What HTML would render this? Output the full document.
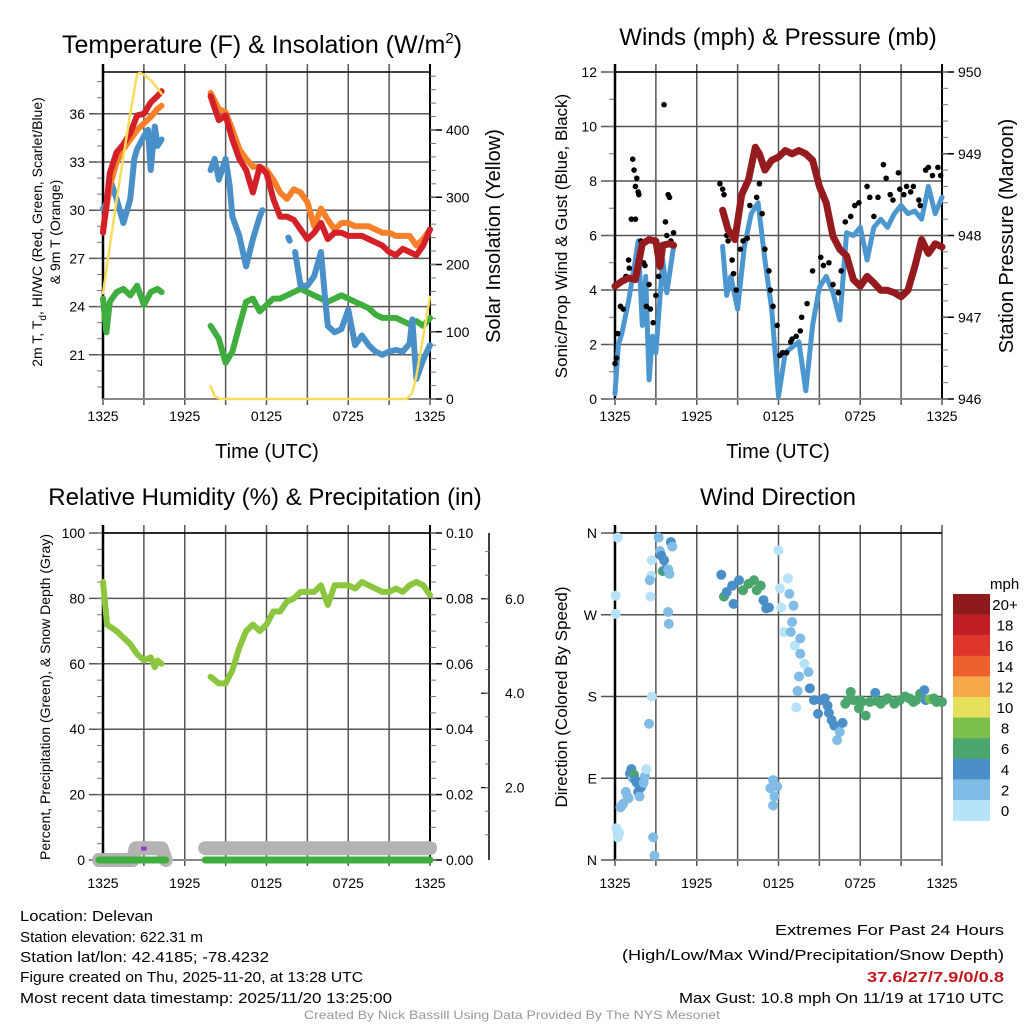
<!DOCTYPE html>
<html><head><meta charset="utf-8"><style>
html,body{margin:0;padding:0;background:#fff;}
svg{display:block;font-family:"Liberation Sans",Arial,sans-serif;}
</style></head><body>
<svg id="root" width="1024" height="1024" viewBox="0 0 1024 1024" xmlns="http://www.w3.org/2000/svg">
<g font-size="24" text-anchor="middle" fill="#000">
<text x="262" y="53" font-size="25">Temperature (F) &amp; Insolation (W/m<tspan font-size="15" dy="-10">2</tspan><tspan dy="10">)</tspan></text>
<text x="778" y="45">Winds (mph) &amp; Pressure (mb)</text>
<text x="265" y="505">Relative Humidity (%) &amp; Precipitation (in)</text>
<text x="778" y="505">Wind Direction</text>
</g>
<g fill="#000" text-anchor="middle">
<text x="267" y="458" font-size="20">Time (UTC)</text>
<text x="778" y="458" font-size="20">Time (UTC)</text>
<text transform="translate(42,232) rotate(-90)" font-size="14">2m T, T<tspan font-size="10" dy="4">d</tspan><tspan dy="-4">, HI/WC (Red, Green, Scarlet/Blue)</tspan></text>
<text transform="translate(60,232) rotate(-90)" font-size="14">&amp; 9m T (Orange)</text>
<text transform="translate(500,236) rotate(-90)" font-size="20">Solar Insolation (Yellow)</text>
<text transform="translate(567,236) rotate(-90)" font-size="17">Sonic/Prop Wind &amp; Gust (Blue, Black)</text>
<text transform="translate(1013,236) rotate(-90)" font-size="20">Station Pressure (Maroon)</text>
<text transform="translate(50,697) rotate(-90)" font-size="14">Percent, Precipitation (Green), &amp; Snow Depth (Gray)</text>
<text transform="translate(567,697) rotate(-90)" font-size="17">Direction (Colored By Speed)</text>
</g>
<g font-size="15" fill="#000">
<text x="20" y="921" textLength="133" lengthAdjust="spacingAndGlyphs">Location: Delevan</text>
<text x="20" y="942" textLength="183" lengthAdjust="spacingAndGlyphs">Station elevation: 622.31 m</text>
<text x="20" y="962" textLength="249" lengthAdjust="spacingAndGlyphs">Station lat/lon: 42.4185; -78.4232</text>
<text x="20" y="982" textLength="343" lengthAdjust="spacingAndGlyphs">Figure created on Thu, 2025-11-20, at 13:28 UTC</text>
<text x="20" y="1003" textLength="372" lengthAdjust="spacingAndGlyphs">Most recent data timestamp: 2025/11/20 13:25:00</text>
<text x="775" y="935" textLength="229" lengthAdjust="spacingAndGlyphs">Extremes For Past 24 Hours</text>
<text x="622" y="960" textLength="382" lengthAdjust="spacingAndGlyphs">(High/Low/Max Wind/Precipitation/Snow Depth)</text>
<text x="867" y="982" textLength="137" lengthAdjust="spacingAndGlyphs" font-weight="bold" fill="#c4161c">37.6/27/7.9/0/0.8</text>
<text x="679" y="1003" textLength="325" lengthAdjust="spacingAndGlyphs">Max Gust: 10.8 mph On 11/19 at 1710 UTC</text>
<text x="304" y="1019" font-size="12" fill="#999" textLength="416" lengthAdjust="spacingAndGlyphs">Created By Nick Bassill Using Data Provided By The NYS Mesonet</text>
</g>
</svg>
<script>
const timeTickLabels=["1325","1925","0125","0725","1325"];
const timeTickHours=[0,6,12,18,24];
// Panel 1 data [hour, value]
const redTemp=[[0,28.6],[0.25,30.3],[0.5,32.3],[1,33.6],[1.5,34.1],[2,34.8],[2.5,35.9],[3,36],[3.5,36.7],[4,37.1],[4.3,37.4],null,[7.9,37.1],[8.5,35.6],[9,35.9],[9.5,34.4],[10,33.2],[10.5,32.5],[11,31.1],[11.5,32.7],[12,32.3],[12.5,30.7],[13,29.6],[13.5,29.6],[14,29.4],[14.5,28.8],[15,28.2],[15.5,28.6],[16,29.2],[16.5,28.2],[17,28.6],[17.5,28.6],[18,28.4],[18.5,28.4],[19,28.4],[19.5,28.2],[20,28],[20.5,27.8],[21,27.4],[21.5,27.2],[22,27.6],[22.5,27.4],[23,27.2],[23.5,27.8],[24,28.8]];
const orangeTemp=[[0,28.8],[0.5,31.5],[1,33],[1.5,33.8],[2,34.4],[2.5,35],[3,35.4],[3.5,35.8],[4,36.3],[4.3,36.5],null,[7.9,37.3],[8.5,36.3],[9,36.1],[9.5,35],[10,33.8],[10.5,33.2],[11,32.7],[11.5,32.7],[12,32.5],[12.5,31.9],[13,31.1],[13.5,30.7],[14,31.3],[14.5,31.1],[15,30.5],[15.5,29],[16,30.1],[16.5,29.4],[17,28.8],[17.5,29.2],[18,29.2],[18.5,29],[19,29],[19.5,29],[20,28.8],[20.5,28.6],[21,28.6],[21.5,28.4],[22,28.4],[22.5,28.4],[23,27.8],[23.5,28.2],[24,28.8]];
const blueTemp=[[0,30.1],[0.3,30.5],[0.6,31.7],[1,30.7],[1.5,29.2],[2,30.7],[2.3,33.2],[2.5,33.8],[3,34.6],[3.3,35],[3.5,32.5],[3.8,35.2],[4,34],[4.3,34.4],null,[7.9,32.5],[8.2,33.2],[8.5,31.9],[9,33.2],[9.3,31.5],[9.5,29.6],[10,28.4],[10.5,26.5],[11,28.2],[11.5,29.6],[11.7,30],null,[13.6,28.3],[13.7,28.1],null,[14.1,27.4],[14.5,25.3],[15,25.3],[15.5,25.9],[16,27.4],[16.3,24.5],[16.5,22.8],[17,22.4],[17.5,22.6],[18,23.8],[18.5,21.6],[19,22.2],[19.5,21.6],[20,21.2],[20.5,21],[21,21.2],[21.5,21.3],[22,21.2],[22.5,21.7],[22.7,23.2],[23,19.5],[23.5,20.7],[24,21.6]];
const greenTemp=[[0,24.5],[0.25,22.4],[0.5,24.3],[1,24.9],[1.5,25.1],[2,24.7],[2.5,25.3],[3,24.1],[3.5,24.9],[4,25.1],[4.3,24.9],null,[7.9,22.8],[8.5,22],[9,20.5],[9.5,21.2],[10,22.8],[10.5,24.3],[11,24.5],[11.5,23.7],[12,24.1],[12.5,24.5],[13,24.5],[13.5,24.7],[14,24.9],[14.5,25.1],[15,24.9],[15.5,24.7],[16,24.5],[16.5,24.3],[17,24.5],[17.5,24.7],[18,24.5],[18.5,24.3],[19,24.1],[19.5,23.9],[20,23.5],[20.5,23.3],[21,23.3],[21.5,23.3],[22,23.1],[22.5,22.9],[23,23.1],[23.5,22.8],[24,23.3]];
const insolation=[[0,157],[0.5,227],[1,296],[1.5,360],[2,425],[2.5,483],[2.7,485],[3,482],[3.5,474],[4,462],[4.3,454],null,[7.9,19],[8.2,4],[8.6,0],[22.3,0],[22.7,9],[23,34],[23.5,93],[24,152]];
// Panel 2 data
const windSpeed=[[0,0.2],[0.25,2],[0.5,2.4],[1,3.6],[1.5,5.1],[1.7,5.8],[2,2.7],[2.25,4.5],[2.5,0.7],[2.75,2.3],[3,1.7],[3.5,5.1],[3.8,3.9],[4.3,5.6],null,[7.9,5.6],[8.2,3.8],[8.5,4.5],[9,3.3],[9.5,5.6],[10,6.8],[10.5,7.2],[11,5.1],[11.5,3.3],[12,0.1],[12.5,1.7],[13,1.9],[13.5,2.1],[14,0.3],[14.5,2.7],[15,4.1],[15.5,4.5],[16,3.9],[16.5,2.9],[17,6.1],[17.5,6],[18,6.3],[18.5,5.1],[19,6.3],[19.5,6.6],[20,6.3],[20.5,6.8],[21,7.1],[21.5,6.8],[22,6.9],[22.5,6.6],[23,7.8],[23.5,6.8],[24,7.4]];
const pressure=[[0,947.38],[0.5,947.44],[1,947.48],[1.5,947.46],[2,947.9],[2.5,947.95],[3,947.93],[3.3,947.62],[3.5,947.88],[4,947.9],[4.3,947.88],null,[7.9,948.31],[8.3,948.07],[8.8,947.95],[9.3,948.5],[9.8,948.68],[10.3,949.08],[10.6,949],[11,948.8],[11.5,948.92],[12,948.96],[12.5,949.04],[13,949],[13.5,949.04],[14,949],[14.5,948.92],[15,948.6],[15.5,948.4],[16,947.99],[16.5,947.83],[17,947.75],[17.5,947.46],[18,947.38],[18.5,947.5],[19,947.42],[19.5,947.33],[20,947.33],[20.5,947.3],[21,947.25],[21.5,947.33],[22,947.62],[22.5,947.95],[23,947.78],[23.5,947.9],[24,947.86]];
const gusts=[[0,1.3],[0.1,1.5],[0.2,2.4],[0.4,3.4],[0.6,3.3],[0.8,4.5],[1,5.1],[1.05,4.8],[1.2,6.6],[1.3,8.8],[1.4,8.4],[1.5,7.8],[1.6,8.1],[1.7,7.6],[1.75,7.5],[1.5,6.6],[1.9,5.8],[2.1,5.0],[2.2,4.9],[2.3,3.4],[2.5,4.2],[2.6,3.3],[2.8,2.8],[3,3.8],[3.2,4.5],[3.6,10.8],[3.7,6.5],[3.8,6.0],[3.9,7.5],[4.0,7.4],[4.1,5.8],[4.3,6.1],
[7.7,7.9],[7.9,7.7],[8.0,7.5],[8.2,6.0],[8.3,5.8],[8.6,5.1],[8.7,4.6],[8.9,4.0],[9.2,5.5],[9.4,5.8],[9.7,5.9],[9.9,7.1],[10.1,8.9],[10.3,9.0],[10.4,7.4],[10.6,7.9],[10.8,6.8],[11.0,5.5],[11.3,4.7],[11.4,4.0],[11.6,3.4],[11.9,2.7],[12.1,1.6],[12.3,1.7],[12.6,1.7],[12.9,2.1],[13.0,2.2],[13.3,2.3],[13.6,2.5],[13.7,3.0],[14.1,3.5],[14.5,4.7],[15.1,5.2],[15.3,4.9],[15.7,5.0],[16.0,4.2],[16.4,3.9],[16.6,4.7],[16.9,6.5],[17.3,6.7],[17.6,7.1],[17.9,7.2],[18.5,7.8],[18.7,7.4],[19.0,6.7],[19.3,7.4],[19.7,8.6],[19.9,8.1],[20.2,7.5],[20.4,7.3],[20.8,8.3],[20.9,7.7],[21.2,7.5],[21.4,7.8],[21.7,7.6],[21.9,7.8],[22.3,7.3],[22.4,7.1],[22.8,8.4],[23.0,8.5],[23.3,8.2],[23.7,8.5],[23.9,8.2]];
// Panel 3 data
const relHumidity=[[0,85],[0.3,72],[1,70],[1.5,68],[2,66],[2.5,63],[3,61],[3.5,62],[3.8,59],[4,61],[4.3,60],null,[7.9,56],[8.5,54],[9,54],[9.5,58],[10,65],[10.5,70],[11,72],[11.5,70],[12,72],[12.5,76],[13,76],[13.5,79],[14,80],[14.5,82],[15,82],[15.5,82],[16,84],[16.5,78],[17,84],[17.5,84],[18,84],[18.5,83],[19,85],[19.5,84],[20,83],[20.5,82],[21,82],[21.5,83],[22,82],[22.5,84],[23,85],[23.5,84],[24,81]];
const snowDepth=[[-0.3,0],[2.2,0],[2.4,0.4],[4.3,0.4],[4.6,0],null,[7.5,0.4],[24,0.4]];
const precip=[[-0.3,0],[4.6,0],null,[7.5,0],[24,0]];
// Panel 4 data [hour, degrees, speed]
const windDir=[[0.05,271,1],[0.05,291,1],[0.2,355,0],[0.1,35,0],[0.3,30,0],[0.2,25,0],[0.4,58,2],[0.5,60,2],[0.6,62,2],[0.8,75,3],[0.9,70,2],[1.0,68,3],[1.1,95,4],[1.2,100,4],[1.3,90,3],[1.4,94,6],[1.5,88,4],[1.6,85,4],[1.7,75,4],[1.8,70,3],[1.9,80,4],[2.1,85,3],[2.2,92,2],[2.3,100,1],[2.5,150,2],[2.7,180,0],[2.6,290,0],[2.7,330,0],[2.65,313,1],[2.55,308,2],[2.8,25,2],[2.9,5,2],[3.2,355,2],[3.3,340,3],[3.4,335,4],[3.5,318,6],[3.6,330,4],[3.7,320,4],[3.9,320,3],[4.0,315,3],[4.1,350,4],[4.2,345,2],[3.9,273,2],[3.95,260,3],
[7.8,314,4],[8.0,290,6],[8.2,295,4],[8.6,302,4],[8.7,282,4],[9.1,308,4],[9.4,297,6],[9.8,304,6],[10.2,308,6],[10.4,297,6],[10.7,302,6],[10.9,286,4],[11.1,277,4],[11.3,278,4],[12.0,341,1],[12.1,299,1],[12.2,278,1],[12.7,310,0],[12.8,293,2],[13.1,280,2],[13.0,262,2],[12.4,251,0],[12.9,251,2],[13.2,236,0],[13.6,244,2],[13.6,227,2],[13.9,216,0],[14.2,207,2],[13.5,202,2],[13.4,186,2],[13.3,168,0],[14.3,189,4],[14.6,176,4],[15.1,176,4],[15.4,178,4],[15.6,170,4],[15.7,162,4],[14.9,161,4],[15.9,154,4],[16.1,148,4],[16.5,141,2],[16.3,132,2],[16.7,151,4],[11.6,88,2],[11.4,79,2],[11.6,60,2],[11.9,81,2],[11.7,70,2],
[16.9,172,6],[17.3,185,6],[17.5,176,6],[17.9,167,6],[18.1,174,6],[18.4,159,6],[18.7,174,6],[19.1,184,4],[19.5,172,6],[20.0,178,6],[20.5,172,6],[20.9,176,6],[21.3,180,6],[21.9,174,6],[22.4,183,6],[22.7,187,4],[22.8,176,4],[23.1,177,8],[23.6,174,6],[24,174,6],[17.1,176,6],[18.0,176,6],[19.2,175,6],[19.8,176,6],[20.7,175,6],[21.6,178,6],[22.1,176,6],[23.4,178,6]];
const speedLabels=["20+","18","16","14","12","10","8","6","4","2","0"];
const speedColors=["#8e1a1c","#bf1f24","#dd3529","#ee612c","#f6a84b","#e6df5a","#7cc04b","#4aa66c","#4a8fc7","#80bce5","#b6e3f7"];

const NS="http://www.w3.org/2000/svg";
const root=document.getElementById('root');
function mk(tag,parent){const e=document.createElementNS(NS,tag);parent.appendChild(e);return e;}

function panel(name,x0,x1,y0,y1){
  const g=mk('g',root);
  
  
  return {g,x0,x1,y0,y1,xs:h=>x0+(x1-x0)*h/24};
}
function line(g,x1,y1,x2,y2,c,w){const l=mk('line',g);l.setAttribute('x1',x1);l.setAttribute('y1',y1);l.setAttribute('x2',x2);l.setAttribute('y2',y2);l.setAttribute('stroke',c);l.setAttribute('stroke-width',w);return l;}
function txt(g,x,y,s,size,anchor){const t=mk('text',g);t.setAttribute('x',x);t.setAttribute('y',y);t.setAttribute('font-size',size);t.setAttribute('text-anchor',anchor);t.textContent=s;return t;}

function timeAxis(p,labY){
  const ag=mk('g',p.g);
  
  
  for(let h=0;h<=24;h+=3){const x=p.xs(h);line(ag,x,p.y0-8,x,p.y1+6,'#555',1.5);}
  timeTickHours.forEach((h,i)=>{const t=txt(ag,p.xs(h),labY,timeTickLabels[i],14,'middle');
    
    });
}
function frame(p){line(p.g,p.x0,p.y0-8,p.x0,p.y1,'#000',2.5);line(p.g,p.x0,p.y1,p.x1,p.y1,'#888',2);line(p.g,p.x0,p.y0,p.x1,p.y0,'#000',1.5);}
function yAxisLeft(p,vals,labs,ys,minorStep,vmin,vmax,grid){
  const ag=mk('g',p.g);
  
  
  vals.forEach((v,i)=>{const y=ys(v);if(grid)line(ag,p.x0-14,y,p.x1,y,'#555',1.5);else line(ag,p.x0-14,y,p.x0,y,'#000',1.5);
    const t=txt(ag,p.x0-18,y+5,labs[i],14,'end');
    
    });
  if(minorStep)for(let v=vmin;v<=vmax+1e-9;v+=minorStep){const y=ys(v);if(y>=p.y0-8&&y<=p.y1)line(ag,p.x0-6,y,p.x0,y,'#777',1);}
}
function yAxisRight(p,ax,vals,labs,ys,minorVals){
  const ag=mk('g',p.g);
  
  
  line(ag,ax,p.y0-8,ax,p.y1,'#000',2);
  vals.forEach((v,i)=>{const y=ys(v);line(ag,ax,y,ax+12,y,'#000',1.5);
    const t=txt(ag,ax+16,y+5,labs[i],14,'start');
    
    });
  (minorVals||[]).forEach(v=>{const y=ys(v);if(y>=p.y0-8&&y<=p.y1)line(ag,ax,y,ax+6,y,'#777',1);});
}
function series(p,data,ys,color,w,name){
  let segs=[],cur=[];
  data.forEach(d=>{if(d===null){if(cur.length)segs.push(cur);cur=[];}else cur.push(p.xs(d[0]).toFixed(1)+','+ys(d[1]).toFixed(1));});
  if(cur.length)segs.push(cur);
  segs.forEach(s=>{const pl=mk('polyline',p.g);
    
    
    pl.setAttribute('points',s.join(' '));pl.setAttribute('fill','none');pl.setAttribute('stroke',color);pl.setAttribute('stroke-width',w);pl.setAttribute('stroke-linejoin','round');pl.setAttribute('stroke-linecap','round');});
}
const rng=(a,b,s)=>{const r=[];for(let v=a;v<=b+1e-9;v+=s)r.push(+v.toFixed(4));return r;};

// Panel 1
const p1=panel('temperature-panel',103,430,72,399);
const t1=v=>p1.y1-(v-18.25)/(38.6-18.25)*(p1.y1-p1.y0);
const s1=v=>p1.y1-v/400*(399-130);
timeAxis(p1,421);
yAxisLeft(p1,[21,24,27,30,33,36],["21","24","27","30","33","36"],t1,1,19,38,true);
yAxisRight(p1,430,[0,100,200,300,400],["0","100","200","300","400"],s1,rng(0,480,20));
frame(p1);
series(p1,greenTemp,t1,'#3fae3f',6,'heat-index-line');
series(p1,blueTemp,t1,'#4a90c8',6,'dewpoint-line');
series(p1,orangeTemp,t1,'#f6812a',6,'temp-9m-line');
series(p1,redTemp,t1,'#d42027',6,'temp-2m-line');
series(p1,insolation,s1,'#f9dc5c',2.5,'insolation-line');

// Panel 2
const p2=panel('winds-panel',615,942,72,399);
const w2=v=>p2.y1-v/12*(p2.y1-p2.y0);
const pr2=v=>p2.y1-(v-946)/4*(p2.y1-p2.y0);
timeAxis(p2,421);
yAxisLeft(p2,[0,2,4,6,8,10,12],["0","2","4","6","8","10","12"],w2,1,0,12,true);
yAxisRight(p2,942,[946,947,948,949,950],["946","947","948","949","950"],pr2,rng(946,950,0.2));
frame(p2);
series(p2,windSpeed,w2,'#4d97d1',5,'wind-speed-line');
gusts.forEach(d=>{const c=mk('circle',p2.g);
  
  
  c.setAttribute('cx',p2.xs(d[0]));c.setAttribute('cy',w2(d[1]));c.setAttribute('r',2.8);c.setAttribute('fill','#000');});
series(p2,pressure,pr2,'#961b1e',7,'pressure-line');

// Panel 3
const p3=panel('humidity-panel',103,430,533,860);
const h3=v=>p3.y1-v/100*(p3.y1-p3.y0);
timeAxis(p3,888);
yAxisLeft(p3,[0,20,40,60,80,100],["0","20","40","60","80","100"],h3,5,0,100,true);
yAxisRight(p3,430,[0,20,40,60,80,100],["0.00","0.02","0.04","0.06","0.08","0.10"],h3,rng(0,100,5));
frame(p3);
(function(){const ag=mk('g',p3.g);
  
  
  line(ag,489,533,489,860,'#000',1.5);
  const sv=[2,4,6],sl=["2.0","4.0","6.0"],sy=v=>882-v*47.2;
  sv.forEach((v,i)=>{line(ag,481,sy(v),489,sy(v),'#000',1.2);txt(ag,505,sy(v)+5,sl[i],14,'start');});
  for(let v=0.5;v<=7;v+=0.5){const y=sy(v);if(y>535&&y<858)line(ag,485,y,489,y,'#777',1);}
})();
series(p3,snowDepth,v=>h3(v*9),'#b3b3b3',14,'snow-depth-line');
series(p3,precip,h3,'#3fae3f',7,'precip-line');
(function(){const pp=mk('polyline',p3.g);
  
  
  pp.setAttribute('points',p3.xs(2.8)+','+(h3(3.5))+' '+p3.xs(3.2)+','+h3(3.5));pp.setAttribute('stroke','#9b30d9');pp.setAttribute('stroke-width',4);pp.setAttribute('fill','none');})();
series(p3,relHumidity,h3,'#8cc63f',6,'humidity-line');

// Panel 4
const p4=panel('wind-direction-panel',615,942,533,860);
const d4=v=>p4.y1-v/360*(p4.y1-p4.y0);
timeAxis(p4,888);
yAxisLeft(p4,[0,90,180,270,360],["N","E","S","W","N"],d4,0,0,0,true);
frame(p4);
windDir.forEach(d=>{const c=mk('circle',p4.g);
  
  
  let idx=10-Math.min(10,Math.floor(d[2]/2));
  c.setAttribute('cx',p4.xs(d[0]));c.setAttribute('cy',d4(d[1]));c.setAttribute('r',5);c.setAttribute('fill',speedColors[idx]);});
(function(){const lg=mk('g',root);
  
  
  txt(lg,990,589,'mph',15,'start');
  speedLabels.forEach((s,i)=>{const r=mk('rect',lg);
    
    
    const y=594+i*20.6;
    r.setAttribute('x',953);r.setAttribute('y',y);r.setAttribute('width',37);r.setAttribute('height',20.8);r.setAttribute('fill',speedColors[i]);
    txt(lg,1005,y+16,s,15,'middle');});
})();
</script>
</body></html>
